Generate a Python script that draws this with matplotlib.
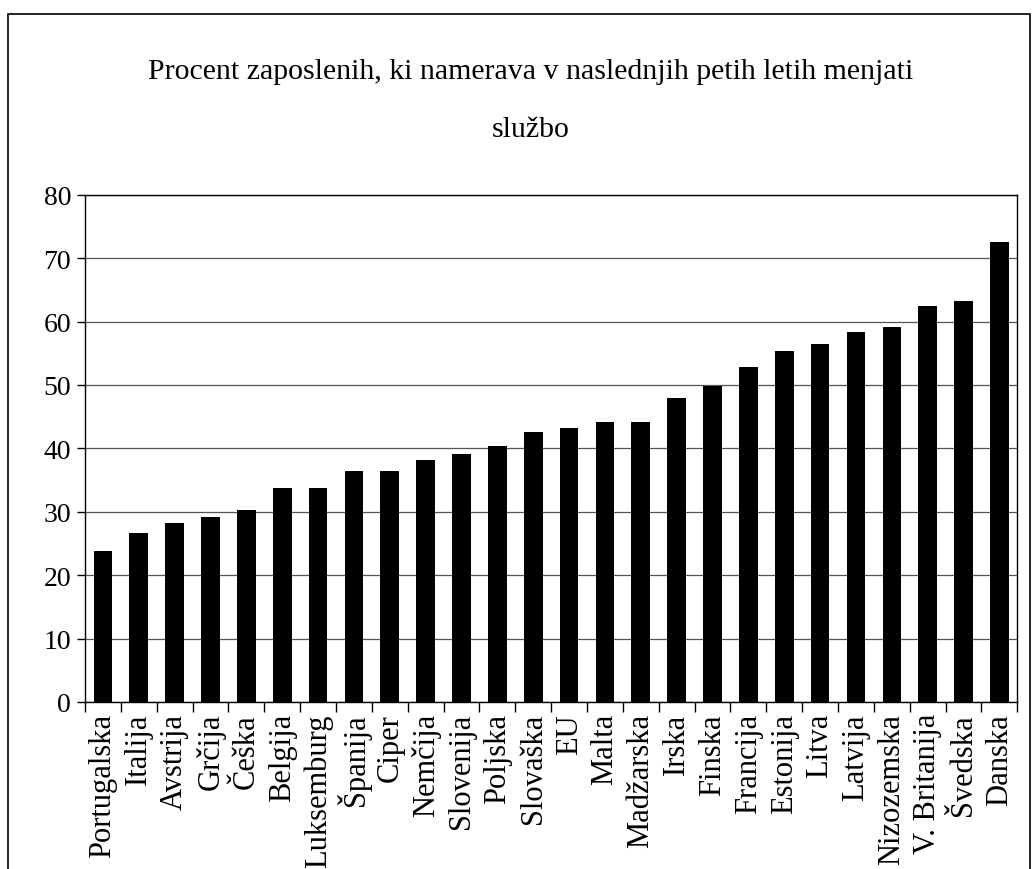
import numpy as np
import matplotlib.pyplot as plt
from matplotlib.patches import Rectangle

plt.rcParams["font.family"] = ["Liberation Serif", "DejaVu Serif"]

# Share of employees planning to change jobs in the next five years (%)
countries = ["Portugalska", "Italija", "Avstrija", "Grčija", "Češka", "Belgija",
             "Luksemburg", "Španija", "Ciper", "Nemčija", "Slovenija", "Poljska",
             "Slovaška", "EU", "Malta", "Madžarska", "Irska", "Finska", "Francija",
             "Estonija", "Litva", "Latvija", "Nizozemska", "V. Britanija",
             "Švedska", "Danska"]
percent = [23.8, 26.6, 28.3, 29.1, 30.2, 33.7, 33.7, 36.5, 36.5, 38.2, 39.1, 40.3,
           42.6, 43.2, 44.1, 44.1, 47.9, 49.9, 52.9, 55.4, 56.4, 58.3, 59.2, 62.5,
           63.3, 72.6]
yticks = [0, 10, 20, 30, 40, 50, 60, 70, 80]

fig = plt.figure(figsize=(10.36, 8.7), dpi=100)
ax = fig.add_axes([0.082, 0.192, 0.900, 0.583])

x = np.arange(len(countries))
ax.bar(x, percent, width=0.52, color="black", zorder=3)

ax.set_xlim(-0.5, len(countries) - 0.5)
ax.set_ylim(0, 80)
ax.set_yticks(yticks)
ax.yaxis.grid(True, color="#555555", linewidth=0.9, zorder=0)
ax.tick_params(axis="y", labelsize=20, length=6, width=1, direction="out", pad=4)

ax.set_xticks(x)
ax.set_xticklabels(countries, rotation=90, fontsize=22)
ax.tick_params(axis="x", which="major", length=0, pad=8)
ax.set_xticks(np.arange(-0.5, len(countries), 1.0), minor=True)
ax.tick_params(axis="x", which="minor", length=7, width=1, direction="out")

for side in ax.spines.values():
    side.set_linewidth(1.0)
    side.set_color("black")

fig.text(0.512, 0.917, "Procent zaposlenih, ki namerava v naslednjih petih letih menjati",
         ha="center", va="center", fontsize=21.5)
fig.text(0.512, 0.851, "službo", ha="center", va="center", fontsize=21.5)

# frame around the whole chart
fig.patches.append(Rectangle((8 / 1036, -0.01), 1022 / 1036, 1 - 15 / 870 + 0.01,
                             transform=fig.transFigure, fill=False,
                             edgecolor="black", linewidth=1.2))

fig.savefig("out.png", dpi=100)
